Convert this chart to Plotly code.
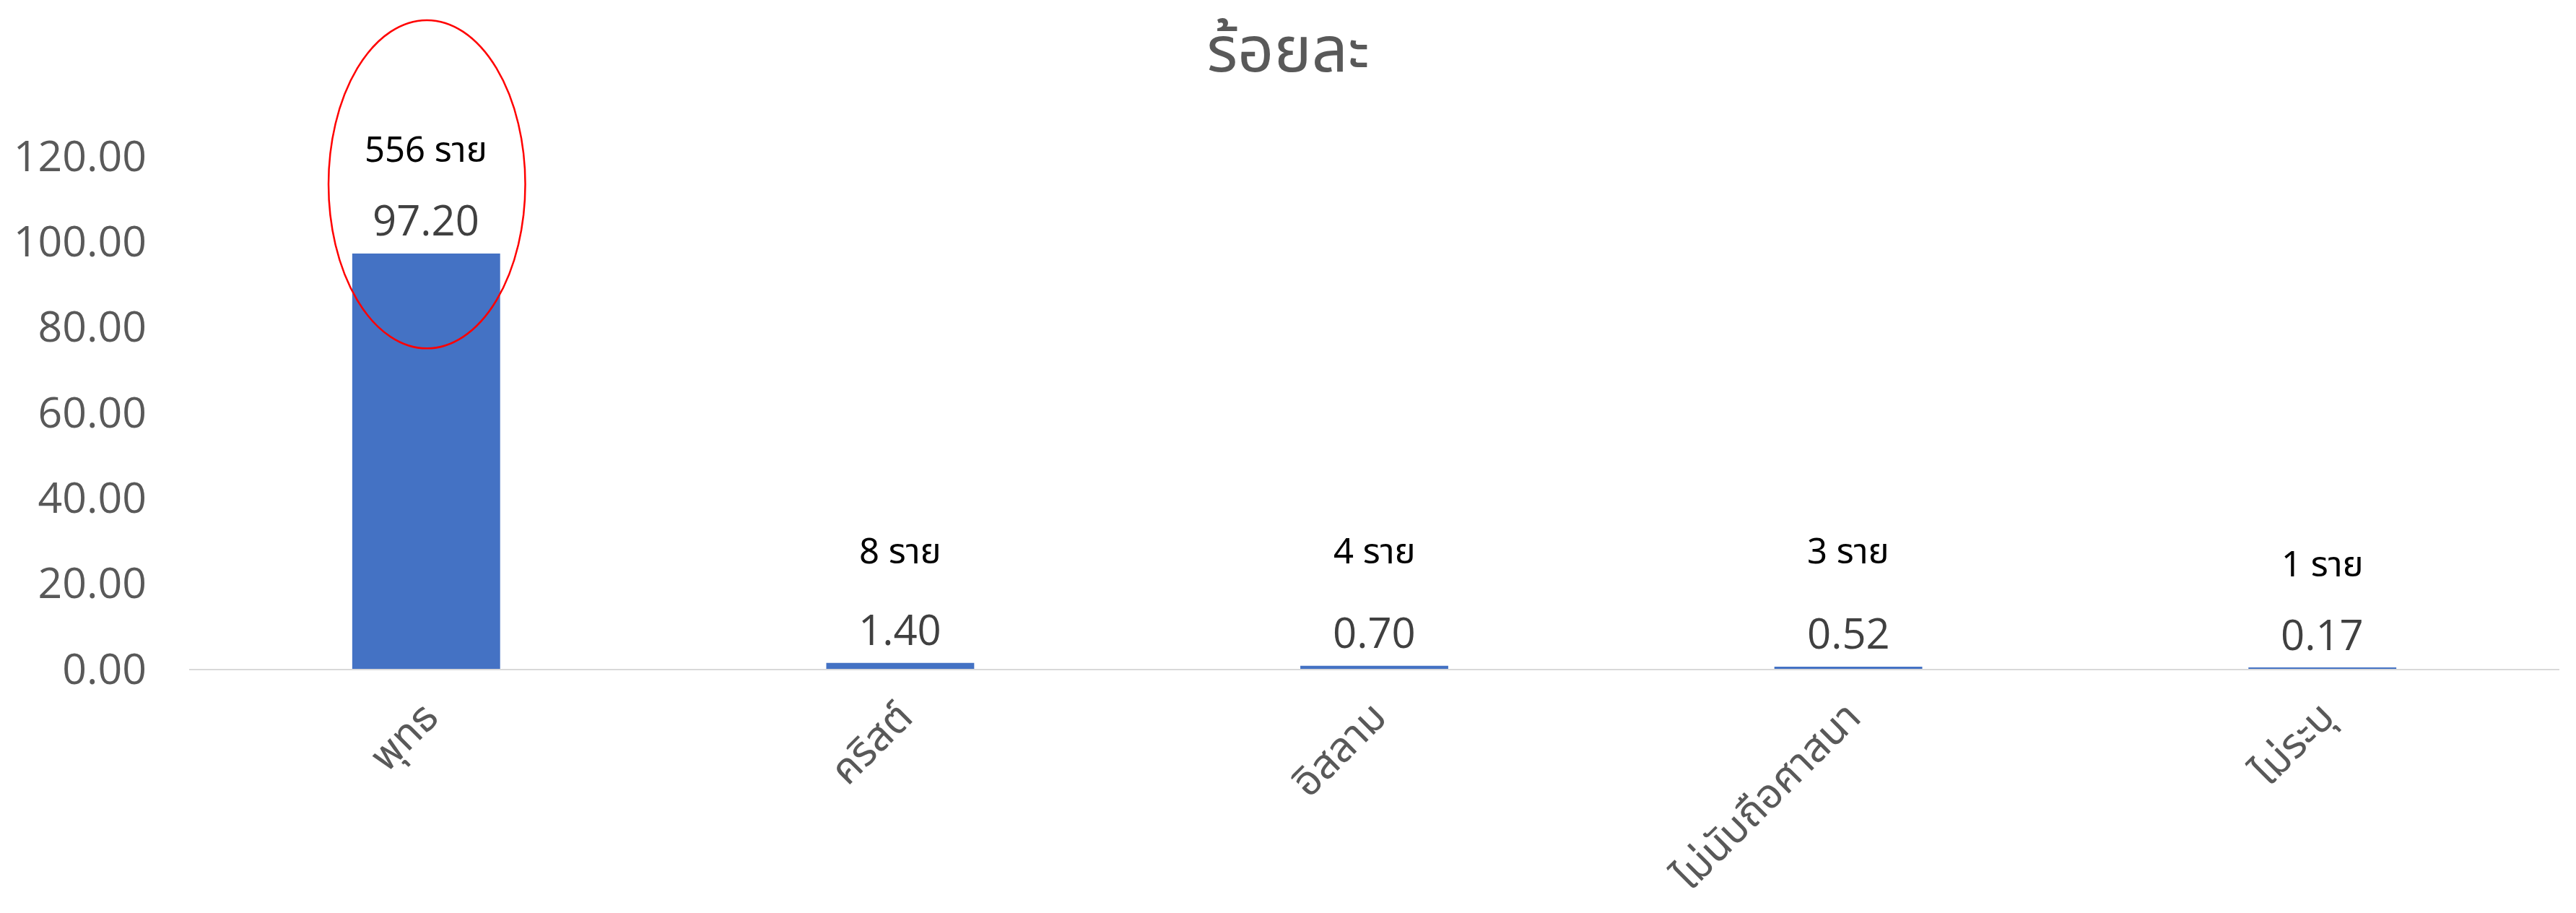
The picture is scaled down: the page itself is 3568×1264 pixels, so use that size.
import plotly.graph_objects as go

# Religion breakdown (percent of respondents and head counts)
categories = ["พุทธ", "คริสต์", "อิสลาม", "ไม่นับถือศาสนา", "ไม่ระบุ"]
percent = [97.20, 1.40, 0.70, 0.52, 0.17]
counts = [556, 8, 4, 3, 1]
y_ticks = [0, 20, 40, 60, 80, 100, 120]

# pixel lift of the "n ราย" notes above each bar top
count_lift = [142, 153, 157, 158, 142]

BAR_BLUE = "#4472C4"
AXIS_GREY = "#595959"
NUM_FONT = "Open Sans, Noto Sans, sans-serif"
THAI_FONT = "Noto Sans Thai, Noto Sans, Open Sans, sans-serif"

fig = go.Figure(
    go.Bar(
        x=list(range(len(categories))),
        y=percent,
        marker=dict(color=BAR_BLUE, line=dict(width=0)),
        width=0.312,
        hoverinfo="skip",
    )
)

# value labels above the bars
for i, v in enumerate(percent):
    fig.add_annotation(
        x=i, y=v, xref="x", yref="y", text=f"{v:.2f}", showarrow=False,
        yshift=47, font=dict(family=NUM_FONT, size=58, color="#404040"),
    )

# head-count notes
for i, (v, n) in enumerate(zip(percent, counts)):
    fig.add_annotation(
        x=i, y=v, xref="x", yref="y", text=f"{n} ราย", showarrow=False,
        yshift=count_lift[i], font=dict(family=THAI_FONT, size=49, color="#000000"),
    )

# red ring highlighting the majority group
fig.add_shape(
    type="circle", xref="x", yref="y",
    x0=-0.206, x1=0.209, y0=75.0, y1=151.8,
    line=dict(color="#FF0000", width=2.5), fillcolor="rgba(0,0,0,0)",
)

fig.update_layout(
    width=3568, height=1264,
    margin=dict(l=262, r=23, t=9, b=338),
    paper_bgcolor="white", plot_bgcolor="white",
    showlegend=False,
    title=dict(
        text="ร้อยละ", x=0.5, xanchor="center", y=0.946, yanchor="middle",
        xref="container", yref="container",
        font=dict(family=THAI_FONT, size=88, color=AXIS_GREY),
    ),
)

fig.update_xaxes(
    range=[-0.5, len(categories) - 0.5],
    tickmode="array", tickvals=list(range(len(categories))), ticktext=categories,
    tickangle=-45, ticks="", showgrid=False, zeroline=False,
    showline=True, linecolor="#D9D9D9", linewidth=2,
    ticklabelstandoff=8, automargin=False,
    tickfont=dict(family=THAI_FONT, size=57, color=AXIS_GREY),
)

fig.update_yaxes(
    range=[0, 155],
    tickmode="array", tickvals=y_ticks, ticktext=[f"{t:.2f}" for t in y_ticks],
    showgrid=False, zeroline=False, showline=False, ticks="",
    ticklabelstandoff=58, automargin=False,
    tickfont=dict(family=NUM_FONT, size=59, color=AXIS_GREY),
)

fig.write_html("out.html")
